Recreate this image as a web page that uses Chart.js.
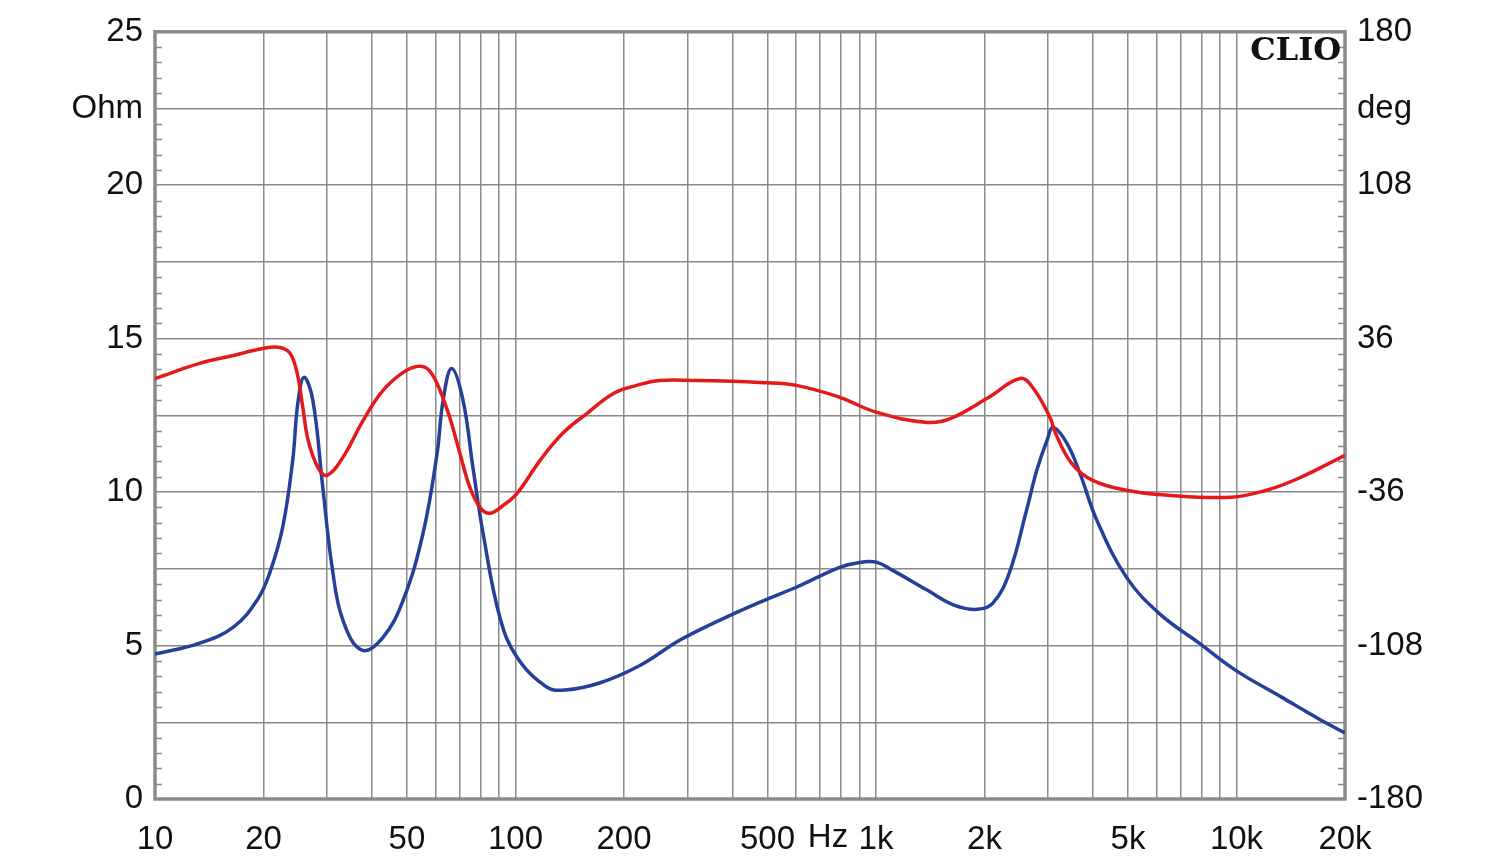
<!DOCTYPE html>
<html>
<head>
<meta charset="utf-8">
<script src="https://cdn.jsdelivr.net/npm/chart.js@4.4.1/dist/chart.umd.min.js"></script>
<style>
  html, body { margin: 0; padding: 0; background: #fff; }
  canvas { display: block; }
</style>
</head>
<body>
<canvas id="clioChart" width="1500" height="864"></canvas>
<script>
// Impedance magnitude (blue, left axis)
const impFreq = [10, 13.3, 16.5, 19.2, 20.8, 22.6, 24.1, 24.9, 25.9, 27.4, 29.2, 31.0, 33.2, 37.5, 42.9, 48.8, 55.4, 60.6, 63.0, 66.5, 71.5, 76.2, 81.3, 90.5, 101, 122, 137, 171, 222, 286, 369, 475, 601, 793, 901, 1006, 1113, 1390, 1646, 1912, 2110, 2342, 2616, 2793, 2985, 3103, 3386, 3680, 4100, 4950, 6100, 7880, 9930, 13330, 16980, 20000];
const impOhm = [4.72, 5.08, 5.6, 6.48, 7.36, 8.85, 11.04, 12.9, 13.74, 13.0, 10.16, 7.55, 5.83, 4.85, 5.27, 6.48, 8.66, 11.26, 13.0, 14.03, 13.0, 10.8, 8.66, 5.92, 4.62, 3.65, 3.55, 3.78, 4.36, 5.18, 5.83, 6.41, 6.9, 7.55, 7.71, 7.71, 7.45, 6.8, 6.32, 6.18, 6.38, 7.36, 9.41, 10.71, 11.7, 12.11, 11.59, 10.61, 9.08, 7.23, 6.05, 5.08, 4.2, 3.32, 2.6, 2.15];

// Impedance phase (red, right axis)
const phaseFreq = [10, 13.3, 16.5, 19.9, 22.2, 23.7, 24.8, 25.7, 26.6, 28.3, 30.0, 33.2, 37.8, 42.9, 48.8, 53.4, 56.9, 60.6, 65.7, 70.1, 74.7, 80.0, 85.0, 92.0, 101, 117, 135, 158, 187, 217, 251, 318, 400, 475, 601, 793, 1006, 1390, 1614, 2034, 2509, 2724, 3039, 3150, 3490, 3990, 4950, 6350, 9680, 12120, 14880, 20000];
const phaseDeg = [17.3, 24.4, 28.1, 31.4, 31.9, 29.1, 19.7, 3.8, -11.7, -24.4, -28.1, -19.7, -2.3, 11.7, 20.2, 23, 22, 15, -1, -17.8, -33.7, -43.5, -45.9, -42.5, -36.6, -21.1, -8.5, 1.0, 10.3, 14.1, 16.4, 16.4, 16.0, 15.4, 14.1, 8.5, 1.4, -3.3, -1.4, 8, 17.3, 13, -1, -8.5, -22.5, -30.5, -35.1, -37.4, -38.4, -35.1, -29.5, -18.7];

// Axis ticks
const freqGrid = [10, 20, 30, 40, 50, 60, 70, 80, 90, 100, 200, 300, 400, 500, 600, 700, 800, 900,
  1000, 2000, 3000, 4000, 5000, 6000, 7000, 8000, 9000, 10000, 20000];
const freqLabels = { 10: '10', 20: '20', 50: '50', 100: '100', 200: '200', 500: '500', 1000: '1k', 2000: '2k', 5000: '5k', 10000: '10k', 20000: '20k' };
const ohmGrid = [0, 2.5, 5, 7.5, 10, 12.5, 15, 17.5, 20, 22.5, 25];
const ohmLabels = { 0: '0', 5: '5', 10: '10', 15: '15', 20: '20', 22.5: 'Ohm', 25: '25' };
const degGrid = [-180, -144, -108, -72, -36, 0, 36, 72, 108, 144, 180];
const degLabels = { '-180': '-180', '-108': '-108', '-36': '-36', 36: '36', 108: '108', 144: 'deg', 180: '180' };

const gridColor = '#8a8a8a';
const labelFont = { family: 'Liberation Sans, Arial, sans-serif', size: 33 };

function toPoints(xs, ys) {
  return xs.map((x, i) => ({ x: x, y: ys[i] }));
}

// Frame, minor ticks, "Hz" and the CLIO mark
const decorations = {
  id: 'decorations',
  beforeDatasetsDraw(chart) {
    const ctx = chart.ctx;
    const a = chart.chartArea;
    const y = chart.scales.y;
    ctx.save();
    ctx.strokeStyle = gridColor;
    ctx.lineWidth = 1.5;
    for (let v = 0.5; v < 25; v += 0.5) {
      if (Math.abs(v / 2.5 - Math.round(v / 2.5)) < 0.001) continue;
      const py = Math.round(y.getPixelForValue(v)) + 0.5;
      ctx.beginPath();
      ctx.moveTo(a.left, py);
      ctx.lineTo(a.left + 7, py);
      ctx.moveTo(a.right - 7, py);
      ctx.lineTo(a.right, py);
      ctx.stroke();
    }
    ctx.lineWidth = 3.5;
    ctx.strokeRect(a.left, a.top, a.right - a.left, a.bottom - a.top);
    ctx.restore();
  },
  afterDraw(chart) {
    const ctx = chart.ctx;
    const a = chart.chartArea;
    ctx.save();
    ctx.fillStyle = '#111';
    ctx.font = '33px Liberation Sans, Arial, sans-serif';
    ctx.textAlign = 'center';
    ctx.textBaseline = 'middle';
    ctx.fillText('Hz', 828, 838);
    ctx.font = 'bold 32px DejaVu Serif, serif';
    ctx.textAlign = 'right';
    ctx.textBaseline = 'alphabetic';
    ctx.fillText('CLIO', a.right - 4, 60);
    ctx.restore();
  }
};

new Chart(document.getElementById('clioChart'), {
  type: 'line',
  data: {
    datasets: [
      {
        label: 'Phase',
        data: toPoints(phaseFreq, phaseDeg),
        yAxisID: 'y2',
        borderColor: '#e3191c',
        borderWidth: 3.5,
        pointRadius: 0,
        tension: 0.4
      },
      {
        label: 'Impedance',
        data: toPoints(impFreq, impOhm),
        yAxisID: 'y',
        borderColor: '#26409a',
        borderWidth: 3.5,
        pointRadius: 0,
        tension: 0.4
      }
    ]
  },
  options: {
    responsive: false,
    animation: false,
    devicePixelRatio: 1,
    layout: { padding: { top: 31, left: 0, right: 0, bottom: 0 } },
    plugins: { legend: { display: false }, tooltip: { enabled: false } },
    scales: {
      x: {
        type: 'logarithmic',
        min: 10,
        max: 20000,
        afterBuildTicks: s => { s.ticks = freqGrid.map(v => ({ value: v })); },
        afterFit: s => { s.height = 65; },
        grid: { color: gridColor, lineWidth: 1.5, drawTicks: false },
        border: { display: false },
        ticks: {
          autoSkip: false,
          maxRotation: 0,
          padding: 21,
          color: '#111',
          font: labelFont,
          callback: v => freqLabels[v] || ''
        }
      },
      y: {
        position: 'left',
        min: 0,
        max: 25,
        afterBuildTicks: s => { s.ticks = ohmGrid.map(v => ({ value: v })); },
        afterFit: s => { s.width = 155; },
        grid: { color: gridColor, lineWidth: 1.5, drawTicks: false },
        border: { display: false },
        ticks: {
          padding: 12,
          color: '#111',
          font: labelFont,
          callback: v => ohmLabels[v] || ''
        }
      },
      y2: {
        position: 'right',
        min: -180,
        max: 180,
        afterBuildTicks: s => { s.ticks = degGrid.map(v => ({ value: v })); },
        afterFit: s => { s.width = 155; },
        grid: { display: false, drawTicks: false },
        border: { display: false },
        ticks: {
          padding: 12,
          color: '#111',
          font: labelFont,
          callback: v => degLabels[v] || ''
        }
      }
    }
  },
  plugins: [decorations]
});
</script>
</body>
</html>
